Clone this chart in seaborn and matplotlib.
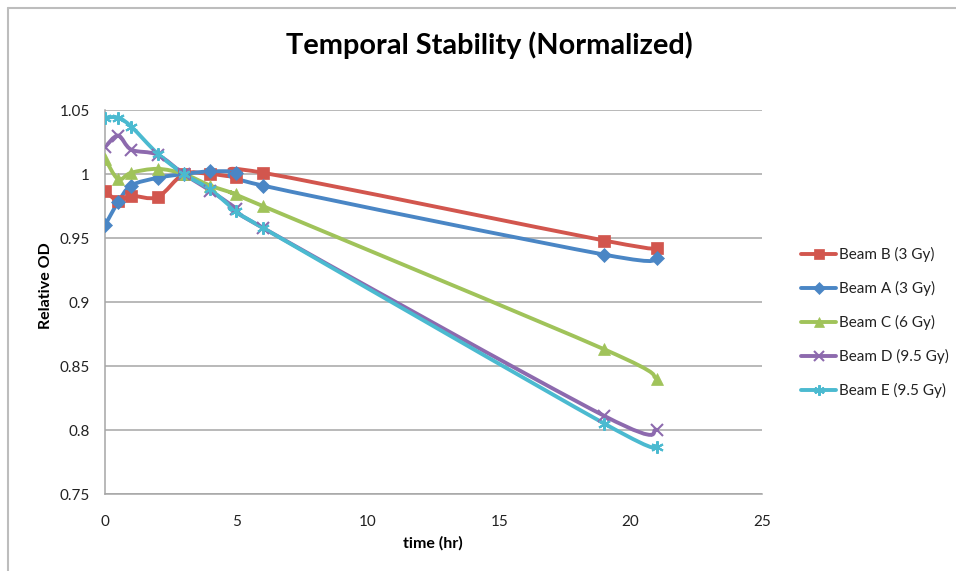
import numpy as np
import pandas as pd
import matplotlib
matplotlib.use("Agg")
import matplotlib.pyplot as plt
from matplotlib.path import Path
from matplotlib.patches import PathPatch
from matplotlib.lines import Line2D
import seaborn as sns

# ---- data ----
time_hr = [0, 0.5, 1, 2, 3, 4, 5, 6, 19, 21]
beam_b = [0.987, 0.979, 0.983, 0.982, 1.000, 1.000, 0.998, 1.001, 0.948, 0.942]
beam_a = [0.960, 0.978, 0.991, 0.997, 1.000, 1.002, 1.001, 0.991, 0.937, 0.934]
beam_c = [1.012, 0.996, 1.001, 1.004, 1.000, 0.991, 0.984, 0.975, 0.863, 0.840]
beam_d = [1.021, 1.030, 1.019, 1.015, 1.000, 0.987, 0.973, 0.958, 0.811, 0.800]
beam_e = [1.044, 1.044, 1.037, 1.016, 1.000, 0.988, 0.971, 0.958, 0.805, 0.787]
series_names = ["Beam B (3 Gy)", "Beam A (3 Gy)", "Beam C (6 Gy)", "Beam D (9.5 Gy)", "Beam E (9.5 Gy)"]
x_ticks = [0, 5, 10, 15, 20, 25]
y_ticks = [0.75, 0.8, 0.85, 0.9, 0.95, 1.0, 1.05]
y_tick_labels = ["0.75", "0.8", "0.85", "0.9", "0.95", "1", "1.05"]

values = [beam_b, beam_a, beam_c, beam_d, beam_e]
colors = ["#D2564E", "#4A86C5", "#A0C35A", "#8D6AAE", "#4BBAD0"]
markers = ["s", "D", "^", "x", (6, 2, 0)]
msizes = [8.5, 7, 9, 8, 9]

sns.set_theme(style="white")
plt.rcParams["font.family"] = ["Lato", "DejaVu Sans"]

fig = plt.figure(figsize=(9.56, 5.71), dpi=100)
W, H = 956, 571
ax = fig.add_axes([105 / W, 1 - 494 / H, (762 - 105) / W, (494 - 110) / H])

def smooth_path(xs, ys):
    pts = np.column_stack([xs, ys]).astype(float)
    n = len(pts)
    verts = [pts[0]]
    codes = [Path.MOVETO]
    for i in range(n - 1):
        p0 = pts[i - 1] if i > 0 else pts[i]
        p1 = pts[i]
        p2 = pts[i + 1]
        p3 = pts[i + 2] if i + 2 < n else pts[i + 1]
        c1 = p1 + (p2 - p0) / 6.0
        c2 = p2 - (p3 - p1) / 6.0
        verts += [c1, c2, p2]
        codes += [Path.CURVE4] * 3
    return Path(verts, codes)

handles = []
for k, (name, vals) in enumerate(zip(series_names, values)):
    df = pd.DataFrame({"time": time_hr, "od": vals})
    patch = PathPatch(smooth_path(df["time"], df["od"]), facecolor="none",
                      edgecolor=colors[k], lw=2.8, zorder=2 + k * 0.1,
                      capstyle="round", joinstyle="round")
    ax.add_patch(patch)
    sns.lineplot(data=df, x="time", y="od", ax=ax, linestyle="none",
                 marker=markers[k], markersize=msizes[k], color=colors[k],
                 markeredgecolor=colors[k], markeredgewidth=1.5 if k >= 3 else 0.5,
                 zorder=3 + k * 0.1, legend=False)
    handles.append(Line2D([0], [0], color=colors[k], lw=2.8, marker=markers[k],
                          markersize=msizes[k] * 0.85, markeredgecolor=colors[k],
                          markeredgewidth=1.5 if k >= 3 else 0.5))

ax.set_xlim(0, 25)
ax.set_ylim(0.75, 1.05)
ax.set_xticks(x_ticks)
ax.set_yticks(y_ticks)
ax.set_yticklabels(y_tick_labels)
ax.yaxis.grid(True, color="#a6a6a6", lw=1.1)
ax.xaxis.grid(False)
for s in ["top", "right"]:
    ax.spines[s].set_visible(False)
for s in ["left", "bottom"]:
    ax.spines[s].set_color("#a6a6a6")
    ax.spines[s].set_linewidth(1.1)
ax.tick_params(axis="both", which="major", direction="out", length=5, width=1.1,
               color="#a6a6a6", labelsize=11, labelcolor="#222222", pad=6)
ax.tick_params(axis="x", pad=10)
ax.set_xlabel("")
ax.set_ylabel("")

fig.text(489 / W, 1 - 45 / H, "Temporal Stability (Normalized)", ha="center", va="center",
         fontsize=20.8, fontweight="bold", color="black")
fig.text(433 / W, 1 - 543 / H, "time (hr)", ha="center", va="center",
         fontsize=11.5, fontweight="bold", color="black")
fig.text(46 / W, 1 - 286 / H, "Relative OD", ha="center", va="center", rotation=90,
         fontsize=11.5, fontweight="bold", color="black")

leg = fig.legend(handles, series_names, loc="upper left",
                 bbox_to_anchor=(795 / W, 1 - 241 / H), frameon=False,
                 fontsize=11, handlelength=2.3, handletextpad=0.2,
                 labelspacing=1.24, borderaxespad=0)
for t in leg.get_texts():
    t.set_color("#222222")

# outer chart frame (partially visible)
fig.add_artist(Line2D([8 / W, 8 / W], [0, 1 - 8 / H], color="#bdbdbd", lw=1.5,
                      transform=fig.transFigure))
fig.add_artist(Line2D([8 / W, 1], [1 - 8 / H, 1 - 8 / H], color="#bdbdbd", lw=1.5,
                      transform=fig.transFigure))

fig.savefig("out.png", dpi=100)
